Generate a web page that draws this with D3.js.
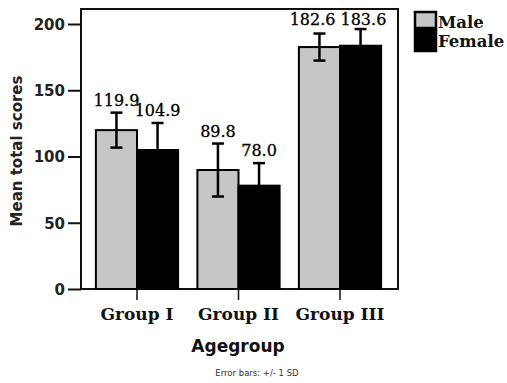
<!DOCTYPE html>
<html><head><meta charset="utf-8">
<script src="https://cdn.jsdelivr.net/npm/d3@7"></script>
<style>html,body{margin:0;padding:0;background:#fff;}svg{display:block;}</style>
</head><body>
<script>
const groups = ["Group I", "Group II", "Group III"];
const seriesNames = ["Male", "Female"];
const maleMeans = [119.9, 89.8, 182.6];
const femaleMeans = [104.9, 78.0, 183.6];
const maleSD = [13.2, 20.0, 10.2];
const femaleSD = [20.4, 17.0, 12.6];
const yTicks = [0, 50, 100, 150, 200];

const W = 507, H = 383;
const frame = {left: 81, right: 398, top: 9, bottom: 289};
const svg = d3.select("body").append("svg").attr("width", W).attr("height", H);

const y = d3.scaleLinear().domain([0, 200]).range([289, 24]);
const x = d3.scaleBand().domain(groups).range([86.25, 390.75]).paddingInner(0.19).paddingOuter(0.095);
const xs = d3.scaleBand().domain(seriesNames).range([0, x.bandwidth()]);
const color = d3.scaleOrdinal().domain(seriesNames).range(["#c6c6c6", "#000"]);

const data = [];
groups.forEach((g, i) => {
  data.push({g, s: "Male", v: maleMeans[i], sd: maleSD[i]});
  data.push({g, s: "Female", v: femaleMeans[i], sd: femaleSD[i]});
});

// frame
svg.append("rect").attr("x", frame.left).attr("y", frame.top)
  .attr("width", frame.right - frame.left).attr("height", frame.bottom - frame.top)
  .attr("fill", "none").attr("stroke", "#111").attr("stroke-width", 2);

// bars
svg.selectAll("rect.bar").data(data).join("rect").attr("class", "bar")
  .attr("x", d => x(d.g) + xs(d.s))
  .attr("y", d => y(d.v))
  .attr("width", xs.bandwidth())
  .attr("height", d => y(0) - y(d.v))
  .attr("fill", d => color(d.s))
  .attr("stroke", "#000").attr("stroke-width", 2);

// error bars
const eb = svg.append("g").attr("stroke", "#000").attr("stroke-width", 2.5);
data.forEach(d => {
  const cx = x(d.g) + xs(d.s) + xs.bandwidth() / 2;
  const yt = y(d.v + d.sd), yb = y(d.v - d.sd);
  eb.append("line").attr("x1", cx).attr("x2", cx).attr("y1", yt).attr("y2", yb);
  eb.append("line").attr("x1", cx - 6).attr("x2", cx + 6).attr("y1", yt).attr("y2", yt);
  eb.append("line").attr("x1", cx - 6).attr("x2", cx + 6).attr("y1", yb).attr("y2", yb);
});

// value labels
data.forEach(d => {
  d.lx = x(d.g) + xs(d.s) + xs.bandwidth() / 2;
  d.ly = y(d.v + d.sd) - 7;
});
const labels = svg.selectAll("text.val").data(data).join("text").attr("class", "val")
  .attr("text-anchor", "middle")
  .attr("font-family", "DejaVu Serif").attr("font-size", 16).attr("fill", "#000")
  .attr("stroke", "#000").attr("stroke-width", 0.3)
  .text(d => d.v.toFixed(1));
labels.each(function(d) { d.w = this.getComputedTextLength(); });
// avoid overlap between the two labels of a group when they sit at the same height
groups.forEach(g => {
  const pair = data.filter(d => d.g === g);
  const a = pair[0], b = pair[1];
  const need = (a.w + b.w) / 2 + 5;
  const overlapV = Math.abs(a.ly - b.ly) < 8;
  if (overlapV && b.lx - a.lx < need) {
    const mid = (a.lx + b.lx) / 2;
    a.lx = mid - need / 2 - 2; b.lx = mid + need / 2 - 2;
    const yy = Math.min(a.ly, b.ly) + 3;
    a.ly = yy; b.ly = yy;
  }
});
labels.attr("x", d => d.lx).attr("y", d => d.ly);

// y axis
const yAxis = svg.append("g").attr("transform", `translate(${frame.left},0)`)
  .call(d3.axisLeft(y).tickValues(yTicks).tickSize(13).tickPadding(3));
yAxis.select(".domain").remove();
yAxis.selectAll("line").attr("stroke", "#111").attr("stroke-width", 2);
yAxis.selectAll("text").attr("font-family", "DejaVu Sans").attr("font-weight", "bold")
  .attr("font-size", 15).attr("fill", "#222").attr("dy", "0.36em");

// x axis
const xAxis = svg.append("g").attr("transform", `translate(0,${frame.bottom})`)
  .call(d3.axisBottom(x).tickSize(11).tickPadding(8));
xAxis.select(".domain").remove();
xAxis.selectAll("line").attr("stroke", "#111").attr("stroke-width", 1.5);
xAxis.selectAll("text").attr("font-family", "DejaVu Serif").attr("font-weight", "bold")
  .attr("font-size", 17).attr("fill", "#111");

// axis titles
svg.append("text").attr("transform", "translate(22,151) rotate(-90)")
  .attr("text-anchor", "middle").attr("font-family", "DejaVu Sans").attr("font-weight", "bold")
  .attr("font-size", 15).attr("fill", "#222").text("Mean total scores");
svg.append("text").attr("x", 238).attr("y", 352)
  .attr("text-anchor", "middle").attr("font-family", "DejaVu Sans").attr("font-weight", "bold")
  .attr("font-size", 17).attr("fill", "#111").text("Agegroup");
svg.append("text").attr("x", 257).attr("y", 376)
  .attr("text-anchor", "middle").attr("font-family", "DejaVu Sans")
  .attr("font-size", 8.5).attr("fill", "#333").text("Error bars: +/- 1 SD");

// legend
const legend = svg.append("g");
const lg = [{s: "Male", y: 12, h: 16}, {s: "Female", y: 30, h: 21}];
lg.forEach((l, i) => {
  legend.append("rect").attr("x", 415).attr("y", l.y).attr("width", 21).attr("height", l.h)
    .attr("fill", color(l.s)).attr("stroke", "#000").attr("stroke-width", 2.5);
  legend.append("text").attr("x", 438).attr("y", i === 0 ? 28 : 47)
    .attr("font-family", "DejaVu Serif").attr("font-weight", "bold").attr("font-size", 16.5)
    .attr("fill", "#111").text(l.s);
});
</script>
</body></html>
